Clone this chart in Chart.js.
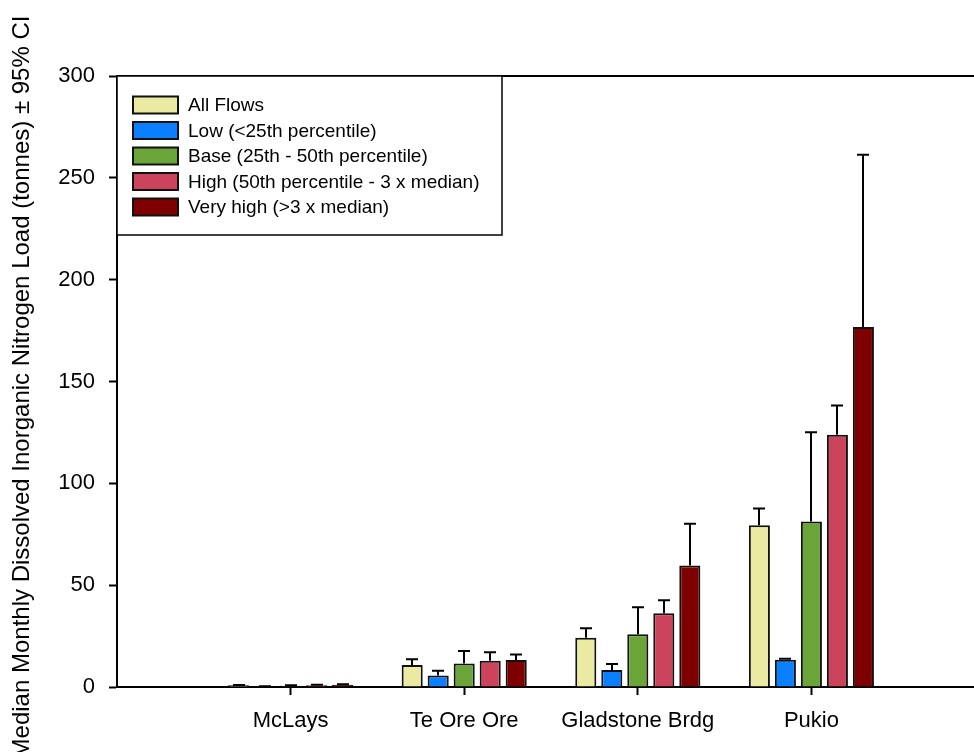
<!DOCTYPE html>
<html>
<head>
<meta charset="utf-8">
<script src="https://cdn.jsdelivr.net/npm/chart.js@4.4.0/dist/chart.umd.min.js"></script>
<style>
  html, body { margin: 0; padding: 0; overflow: hidden; background: #fff; width: 974px; height: 752px; }
  #wrap { position: absolute; left: 0; top: 0; width: 1000px; height: 752px; }
</style>
</head>
<body>
<div id="wrap"><canvas id="c" width="1000" height="752"></canvas></div>
<script>
// Sites along the x axis (blank slots pad both ends of the axis)
const sites = ['', 'McLays', 'Te Ore Ore', 'Gladstone Brdg', 'Pukio', ''];

// Flow classes
const flowClasses = [
  'All Flows',
  'Low (<25th percentile)',
  'Base (25th - 50th percentile)',
  'High (50th percentile - 3 x median)',
  'Very high (>3 x median)'
];
const classColors = ['#EAEAA2', '#0A80FF', '#6BA539', '#CC445B', '#7F0000'];

// Median monthly DIN load (tonnes)
const allFlows = [null, 0.8, 10.8, 24.2, 79.4, null];
const lowFlows = [null, 0.3, 5.6, 8.4, 13.4, null];
const baseFlows = [null, 0.6, 11.5, 25.9, 81.3, null];
const highFlows = [null, 0.9, 12.9, 36.2, 123.8, null];
const veryHighFlows = [null, 1.1, 13.3, 59.7, 176.7, null];

// Upper 95% confidence limits (tonnes)
const allFlowsUpper = [null, 1.0, 13.6, 28.9, 87.7, null];
const lowFlowsUpper = [null, 0.4, 8.0, 11.3, 13.9, null];
const baseFlowsUpper = [null, 0.8, 17.7, 39.2, 125.1, null];
const highFlowsUpper = [null, 1.1, 17.1, 42.6, 138.2, null];
const veryHighFlowsUpper = [null, 1.3, 15.9, 80.2, 261.3, null];

// Y axis ticks
const yTicks = [0, 50, 100, 150, 200, 250, 300];

const yTitle = 'Median Monthly Dissolved Inorganic Nitrogen Load (tonnes) \u00B1 95% CI';

const FONT = '"Liberation Sans", Arial, Helvetica, sans-serif';
Chart.defaults.font.family = FONT;
Chart.defaults.color = '#000';

const values = [allFlows, lowFlows, baseFlows, highFlows, veryHighFlows];
const uppers = [allFlowsUpper, lowFlowsUpper, baseFlowsUpper, highFlowsUpper, veryHighFlowsUpper];

const datasets = flowClasses.map((name, i) => ({
  label: name,
  data: values[i],
  upper: uppers[i],
  backgroundColor: classColors[i],
  borderColor: '#111',
  borderWidth: 2,
  borderSkipped: 'bottom',
  categoryPercentage: 0.749,
  barPercentage: 0.81
}));

// Upper confidence whiskers with a centred cap
const errorBars = {
  id: 'errorBars',
  afterDatasetsDraw(chart) {
    const ctx = chart.ctx;
    const ys = chart.scales.y;
    ctx.save();
    ctx.strokeStyle = '#000';
    ctx.lineWidth = 2;
    chart.data.datasets.forEach((ds, i) => {
      const meta = chart.getDatasetMeta(i);
      ds.upper.forEach((u, j) => {
        if (u == null || ds.data[j] == null) return;
        const bar = meta.data[j];
        const x = Math.round(bar.x);
        const y0 = bar.y;
        const y1 = ys.getPixelForValue(u);
        ctx.beginPath();
        ctx.moveTo(x, y0);
        ctx.lineTo(x, y1);
        ctx.moveTo(x - 6, y1);
        ctx.lineTo(x + 6, y1);
        ctx.stroke();
      });
    });
    ctx.restore();
  }
};

// Top frame line, legend box and rotated y title
const decorations = {
  id: 'decorations',
  afterDraw(chart) {
    const ctx = chart.ctx;
    const a = chart.chartArea;
    ctx.save();
    // top frame
    ctx.strokeStyle = '#000';
    ctx.lineWidth = 2;
    ctx.beginPath();
    ctx.moveTo(a.left, a.top);
    ctx.lineTo(chart.width, a.top);
    ctx.stroke();

    // legend
    const lx = a.left, ly = a.top, lw = 385, lh = 159;
    ctx.fillStyle = '#fff';
    ctx.fillRect(lx, ly, lw, lh);
    ctx.lineWidth = 1.5;
    ctx.strokeRect(lx, ly, lw, lh);
    ctx.font = '19px ' + FONT;
    ctx.textBaseline = 'middle';
    ctx.textAlign = 'left';
    chart.data.datasets.forEach((ds, i) => {
      const cy = ly + 29 + i * 25.5;
      ctx.fillStyle = ds.backgroundColor;
      ctx.fillRect(lx + 16, cy - 8.5, 45, 17);
      ctx.strokeStyle = '#111';
      ctx.lineWidth = 2;
      ctx.strokeRect(lx + 16, cy - 8.5, 45, 17);
      ctx.fillStyle = '#000';
      ctx.fillText(ds.label, lx + 71, cy + 1);
    });

    // y axis title
    ctx.translate(22, 387);
    ctx.rotate(-Math.PI / 2);
    ctx.font = '24px ' + FONT;
    ctx.textAlign = 'center';
    ctx.textBaseline = 'middle';
    ctx.fillStyle = '#000';
    ctx.fillText(yTitle, 0, 0);
    ctx.restore();
  }
};

new Chart(document.getElementById('c'), {
  type: 'bar',
  data: { labels: sites, datasets },
  options: {
    responsive: false,
    animation: false,
    devicePixelRatio: 1,
    layout: { padding: { top: 76, right: 15, left: 0, bottom: 0 } },
    plugins: { legend: { display: false }, tooltip: { enabled: false } },
    scales: {
      x: {
        offset: false,
        grid: {
          display: true,
          offset: false,
          drawOnChartArea: false,
          drawTicks: true,
          tickLength: 8,
          tickWidth: 2,
          tickColor: (c) => (sites[c.index] ? '#000' : 'rgba(0,0,0,0)')
        },
        border: { display: true, color: '#000', width: 2 },
        ticks: {
          autoSkip: false,
          maxRotation: 0,
          padding: 13,
          font: { size: 22 },
          color: '#000'
        },
        afterFit(scale) { scale.height = 65; }
      },
      y: {
        min: 0,
        max: 300,
        afterBuildTicks(scale) { scale.ticks = yTicks.map(v => ({ value: v })); },
        grid: {
          display: true,
          drawOnChartArea: false,
          drawTicks: true,
          tickLength: 8,
          tickWidth: 2,
          tickColor: '#000'
        },
        border: { display: true, color: '#000', width: 2 },
        ticks: {
          padding: 14,
          font: { size: 22 },
          color: '#000'
        },
        afterFit(scale) { scale.width = 117; }
      }
    }
  },
  plugins: [errorBars, decorations]
});
</script>
</body>
</html>
